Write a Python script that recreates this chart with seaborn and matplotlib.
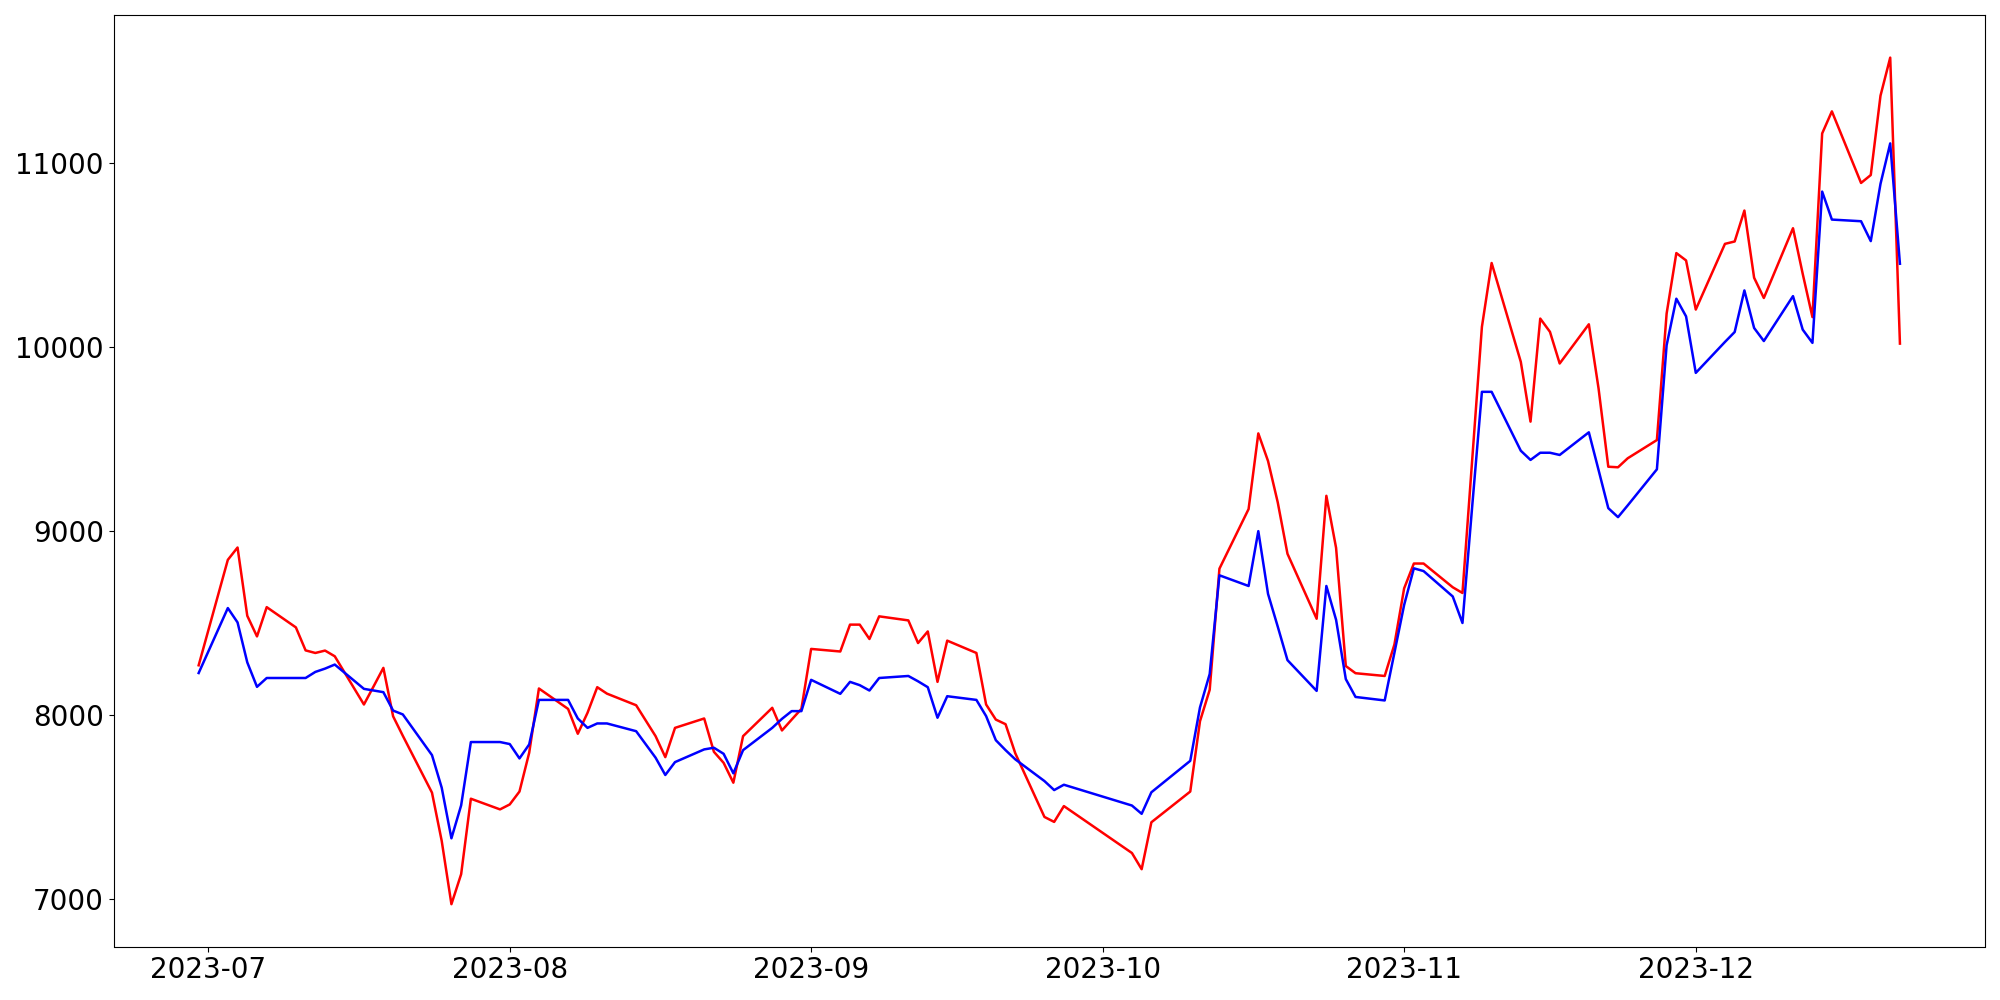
import matplotlib
matplotlib.use('Agg')
import matplotlib.pyplot as plt
import pandas as pd
import seaborn as sns

# trading days (KRX calendar) between 2023-06-30 and 2023-12-22
holidays = ['2023-08-15', '2023-09-28', '2023-09-29', '2023-10-02', '2023-10-03', '2023-10-09']
dates = pd.bdate_range('2023-06-30', '2023-12-22', freq='C', holidays=holidays)

red_values = [
    8268,
    # Jul
    8841, 8908, 8537, 8425, 8584, 8474, 8349, 8335, 8348, 8317, 8055, 8154, 8254, 7991, 7885,
    7576, 7314, 6970, 7133, 7543, 7485,
    # Aug
    7512, 7582, 7793, 8142, 8031, 7896, 8010, 8149, 8114, 8051, 7883, 7769, 7928, 7979, 7798,
    7738, 7630, 7883, 8037, 7914, 7973, 8031,
    # Sep
    8357, 8343, 8489, 8489, 8411, 8534, 8512, 8389, 8452, 8178, 8402, 8335, 8055, 7973, 7948,
    7790, 7444, 7417, 7503,
    # Oct
    7248, 7160, 7415, 7582, 7964, 8135, 8793, 9117, 9528, 9378, 9153, 8874, 8521, 9189, 8906,
    8264, 8225, 8210, 8381,
    # Nov
    8686, 8821, 8821, 8692, 8661, 9384, 10107, 10454, 9917, 9592, 10152, 10080, 9908, 10121,
    9772, 9347, 9344, 9393, 9492, 10179, 10508, 10468,
    # Dec
    10201, 10558, 10571, 10739, 10374, 10264, 10643, 10395, 10160, 11158, 11278, 10889, 10932,
    11363, 11570, 10016,
]

blue_values = [
    8226,
    # Jul
    8579, 8501, 8284, 8151, 8199, 8199, 8199, 8232, 8250, 8272, 8140, 8131, 8122, 8022, 8001,
    7780, 7603, 7328, 7507, 7851, 7851,
    # Aug
    7840, 7762, 7838, 8080, 8080, 7979, 7928, 7952, 7952, 7910, 7766, 7672, 7742, 7811, 7820,
    7787, 7681, 7807, 7928, 7977, 8019, 8019,
    # Sep
    8189, 8113, 8178, 8160, 8131, 8199, 8210, 8181, 8149, 7983, 8100, 8080, 7992, 7861, 7807,
    7757, 7639, 7590, 7619,
    # Oct
    7506, 7461, 7578, 7749, 8039, 8221, 8757, 8699, 8997, 8656, 8478, 8296, 8129, 8699, 8515,
    8193, 8096, 8077, 8336,
    # Nov
    8596, 8795, 8780, 8642, 8498, 9131, 9754, 9754, 9434, 9384, 9423, 9423, 9411, 9534, 9329,
    9122, 9073, 9137, 9333, 10007, 10260, 10164,
    # Dec
    9857, 10025, 10079, 10305, 10101, 10030, 10274, 10092, 10020, 10842, 10690, 10681, 10573,
    10884, 11104, 10450,
]

df = pd.DataFrame({
    'date': list(dates) * 2,
    'value': red_values + blue_values,
    'series': ['red'] * len(dates) + ['blue'] * len(dates),
})

fig, ax = plt.subplots(figsize=(20, 10), dpi=100)
# red first, blue drawn on top
sns.lineplot(data=df, x='date', y='value', hue='series',
             palette={'red': 'red', 'blue': 'blue'}, legend=False, ax=ax, linewidth=1.8)
ax.set_xlabel('')
ax.set_ylabel('')
ax.tick_params(labelsize=20)

plt.subplots_adjust(left=0.0568, right=0.9925, top=0.9847, bottom=0.0535)
fig.savefig('out.png', dpi=100)
plt.close()
